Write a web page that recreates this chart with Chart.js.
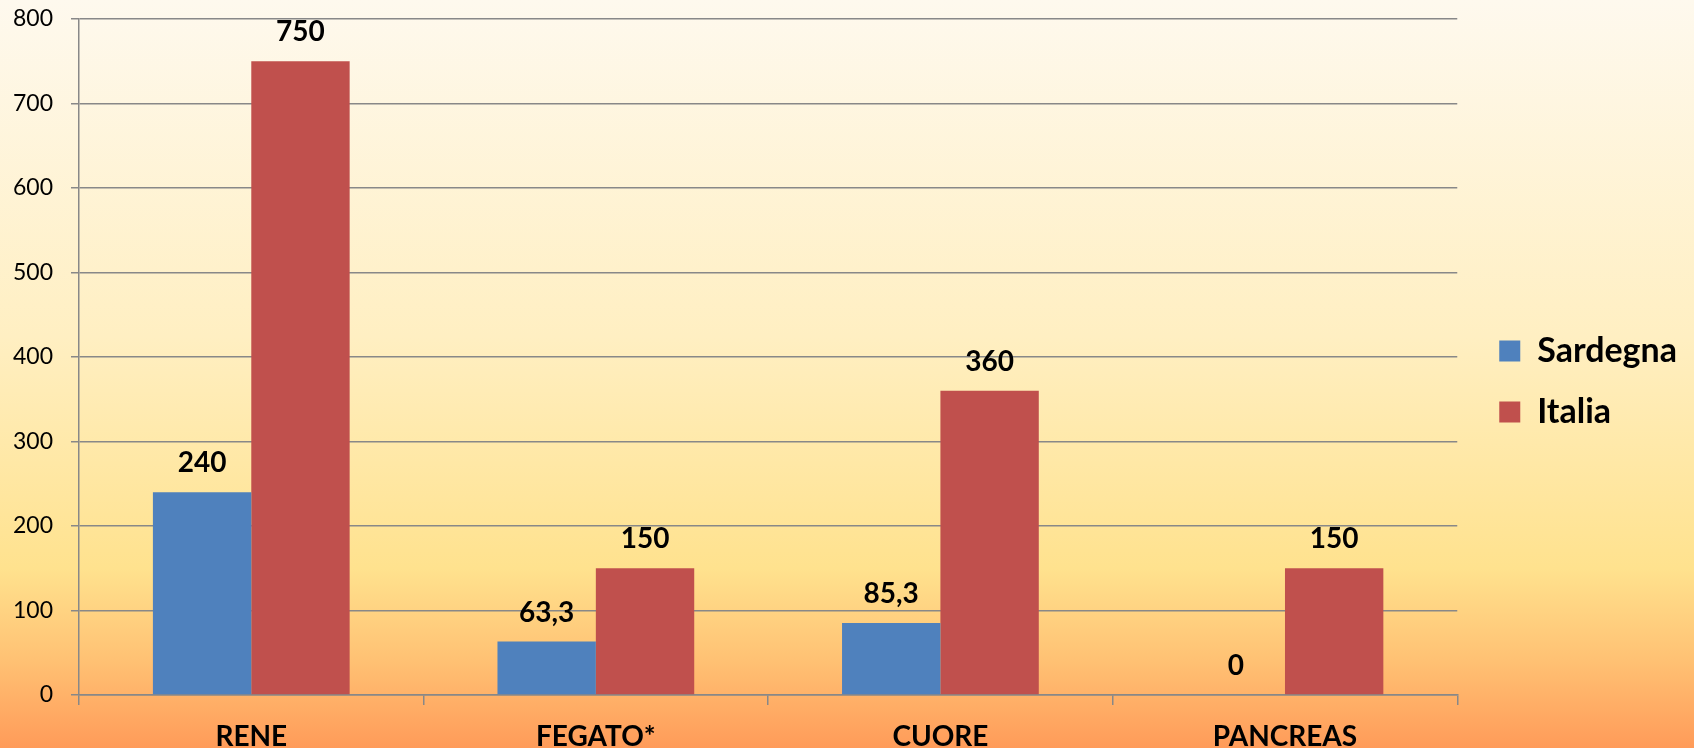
<!DOCTYPE html>
<html>
<head>
<meta charset="utf-8">
<script src="https://cdn.jsdelivr.net/npm/chart.js@4/dist/chart.umd.min.js"></script>
<style>
  html, body { margin: 0; padding: 0; background: #fff; }
  #wrap { width: 1694px; height: 748px; position: relative; }
</style>
</head>
<body>
<div id="wrap"><canvas id="c" width="1694" height="748"></canvas></div>
<script>
const categories = ['RENE', 'FEGATO*', 'CUORE', 'PANCREAS'];
const seriesNames = ['Sardegna', 'Italia'];
const sardegna = [240, 63.3, 85.3, 0];
const italia = [750, 150, 360, 150];
const yTicks = [0, 100, 200, 300, 400, 500, 600, 700, 800];

const FONT = 'Lato, "Open Sans", "DejaVu Sans", sans-serif';
const GRID = '#888888';

const bgPlugin = {
  id: 'bg',
  beforeDraw(chart) {
    const ctx = chart.ctx;
    const g = ctx.createLinearGradient(0, 0, 0, chart.height);
    g.addColorStop(0, '#FEF9EE');
    g.addColorStop(0.45, '#FFEFC2');
    g.addColorStop(0.76, '#FFE28E');
    g.addColorStop(0.88, '#FFC274');
    g.addColorStop(1, '#FF9B59');
    ctx.save();
    ctx.fillStyle = g;
    ctx.fillRect(0, 0, chart.width, chart.height);
    ctx.restore();
  }
};

function fmt(v) {
  return String(v).replace('.', ',');
}

const labelPlugin = {
  id: 'valueLabels',
  afterDatasetsDraw(chart) {
    const ctx = chart.ctx;
    ctx.save();
    ctx.font = 'bold 28px ' + FONT;
    ctx.fillStyle = '#000';
    ctx.textAlign = 'center';
    ctx.textBaseline = 'alphabetic';
    chart.data.datasets.forEach((ds, di) => {
      const meta = chart.getDatasetMeta(di);
      meta.data.forEach((el, i) => {
        ctx.fillText(fmt(ds.data[i]), el.x, el.y - 20);
      });
    });
    ctx.restore();
  }
};

new Chart(document.getElementById('c'), {
  type: 'bar',
  data: {
    labels: categories,
    datasets: [
      { label: seriesNames[0], data: sardegna, backgroundColor: '#4F81BD', borderWidth: 0,
        categoryPercentage: 0.571, barPercentage: 1 },
      { label: seriesNames[1], data: italia, backgroundColor: '#C0504D', borderWidth: 0,
        categoryPercentage: 0.571, barPercentage: 1 }
    ]
  },
  options: {
    responsive: false,
    animation: false,
    devicePixelRatio: 1,
    layout: { padding: { top: 6, right: 7, bottom: 0, left: 0 } },
    plugins: {
      legend: {
        display: true,
        position: 'right',
        align: 'center',
        title: { display: true, text: ' ', font: { size: 5 }, padding: 1.5 },
        labels: {
          boxWidth: 21,
          boxHeight: 21,
          padding: 27,
          color: '#000',
          font: { family: FONT, size: 34, weight: 'bold' }
        }
      },
      tooltip: { enabled: false }
    },
    scales: {
      x: {
        offset: true,
        afterFit(scale) { scale.height = 53; },
        grid: { display: true, drawOnChartArea: false, drawTicks: true, tickLength: 10, color: GRID, lineWidth: 1.5, offset: true },
        border: { display: true, color: GRID, width: 1.5 },
        ticks: { color: '#000', padding: 18, font: { family: FONT, size: 28, weight: 'bold', lineHeight: 1 } }
      },
      y: {
        min: 0,
        max: 800,
        afterBuildTicks(scale) { scale.ticks = yTicks.map(v => ({ value: v })); },
        afterFit(scale) { scale.width = 79; scale.paddingTop = 19; scale.paddingBottom = 14; },
        grid: { display: true, drawTicks: true, tickLength: 8, color: GRID, lineWidth: 1.5 },
        border: { display: true, color: GRID, width: 1.5 },
        ticks: { color: '#000', padding: 18, font: { family: FONT, size: 23 } }
      },
      y2: {
        position: 'right',
        display: true,
        grid: { display: false, drawTicks: false },
        border: { display: false },
        ticks: { display: false },
        afterFit(scale) { scale.width = 15; scale.paddingTop = 0; scale.paddingBottom = 0; }
      }
    }
  },
  plugins: [bgPlugin, labelPlugin]
});
</script>
</body>
</html>
